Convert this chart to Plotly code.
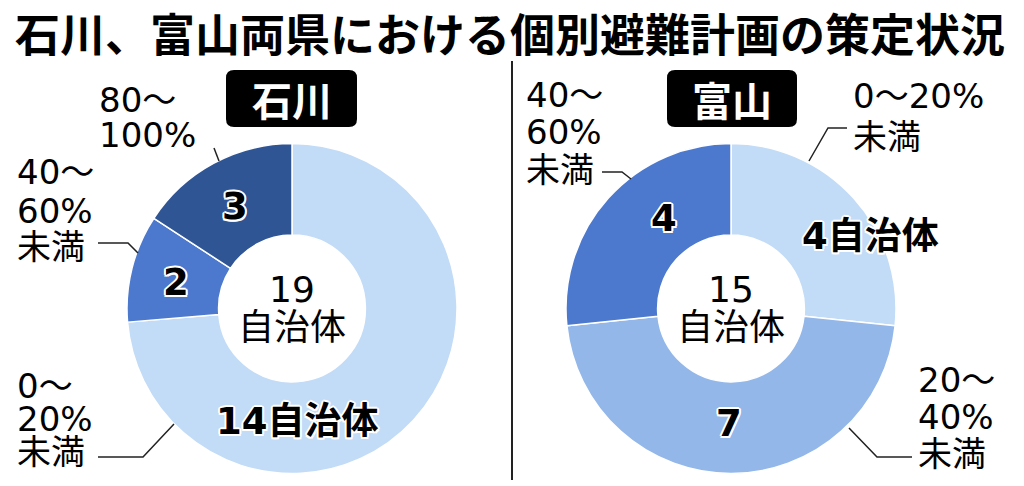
import plotly.graph_objects as go

# browser puts an 8px body margin around the plot, so the figure is that much smaller
OFF = 8
W, H = 1024 - OFF, 486 - OFF

title = "石川、富山両県における個別避難計画の策定状況"

ishikawa_labels = ["0～20%未満", "40～60%未満", "80～100%"]
ishikawa_values = [14, 2, 3]
toyama_labels = ["0～20%未満", "20～40%未満", "40～60%未満"]
toyama_values = [4, 7, 4]

color_map = {
    "0～20%未満": "#c2dbf6",
    "20～40%未満": "#93b7e9",
    "40～60%未満": "#4c79cd",
    "80～100%": "#2f5595",
}

CJK = "Noto Sans CJK JP"
FONT = "DejaVu Sans, Noto Sans CJK JP"
HALO = ("2px 0 0 #fff, -2px 0 0 #fff, 0 2px 0 #fff, 0 -2px 0 #fff, "
        "1.5px 1.5px 0 #fff, -1.5px -1.5px 0 #fff, 1.5px -1.5px 0 #fff, -1.5px 1.5px 0 #fff")


def px(x):
    return (x - OFF) / W


def py(y):
    return 1 - (y - OFF) / H


def pie(labels, values, x0, x1):
    return go.Pie(
        labels=labels,
        values=values,
        hole=0.445,
        sort=False,
        direction="clockwise",
        rotation=0,
        textinfo="none",
        marker=dict(colors=[color_map[l] for l in labels],
                    line=dict(color="white", width=1.5)),
        domain=dict(x=[px(x0), px(x1)], y=[py(474), py(143)]),
        showlegend=False,
        hoverinfo="label+value",
    )


fig = go.Figure([
    pie(ishikawa_labels, ishikawa_values, 127, 457),
    pie(toyama_labels, toyama_values, 566, 896),
])


def text(x, y, s, size=34, bold=False, color="black", xanchor="center", halo=False,
         family=FONT, height=None):
    f = dict(family=family, size=size, color=color, weight=700 if bold else 400)
    if halo:
        f["shadow"] = HALO
    fig.add_annotation(x=px(x), y=py(y), xref="paper", yref="paper", text=s,
                       showarrow=False, font=f, xanchor=xanchor, yanchor="middle",
                       height=height)


def lines(x, ys, parts, size=34, xanchor="left"):
    for y, s in zip(ys, parts):
        text(x, y, s, size=size, xanchor=xanchor, height=36)


def leader(points):
    path = "M " + " L ".join(f"{px(x)},{py(y)}" for x, y in points)
    fig.add_shape(type="path", path=path, xref="paper", yref="paper",
                  line=dict(color="#222", width=1.5))


def badge(x0, y0, x1, y1, s, r=8):
    a0, b0, a1, b1 = px(x0), py(y0), px(x1), py(y1)
    rx, ry = r / W, r / H
    path = (f"M {a0 + rx},{b0} L {a1 - rx},{b0} Q {a1},{b0} {a1},{b0 - ry} "
            f"L {a1},{b1 + ry} Q {a1},{b1} {a1 - rx},{b1} L {a0 + rx},{b1} "
            f"Q {a0},{b1} {a0},{b1 + ry} L {a0},{b0 - ry} Q {a0},{b0} {a0 + rx},{b0} Z")
    fig.add_shape(type="path", path=path, xref="paper", yref="paper",
                  fillcolor="black", line=dict(width=0))
    text((x0 + x1) / 2, (y0 + y1) / 2 + 1, s, size=40, bold=True, color="white", family=CJK)


# title
text(510, 32, title, size=45, bold=True, family=CJK, height=48)

# divider
fig.add_shape(type="line", xref="paper", yref="paper", x0=px(512), x1=px(512),
              y0=py(61), y1=py(480), line=dict(color="#222", width=2))

# badges
badge(226, 70, 357, 127, "石川")
badge(667, 70, 797, 127, "富山")

# Ishikawa
text(292, 289, f"{sum(ishikawa_values)}", size=36, height=38)
text(292, 327, "自治体", size=36, height=38)
text(297, 421, f"{ishikawa_values[0]}自治体", size=37, bold=True, halo=True)
text(176, 282, f"{ishikawa_values[1]}", size=37, bold=True, halo=True)
text(235, 206, f"{ishikawa_values[2]}", size=37, bold=True, halo=True)

lines(97, [100, 135], ["80～", "100%"])
lines(15, [172, 211, 247], ["40～", "60%", "未満"])
lines(15, [386, 419, 452], ["0～", "20%", "未満"])
leader([(214, 148), (219, 161)])
leader([(98, 243), (128, 243), (138, 253)])
leader([(98, 457), (143, 457), (174, 424)])

# Toyama
text(731, 289, f"{sum(toyama_values)}", size=36, height=38)
text(731, 327, "自治体", size=36, height=38)
text(870, 236, f"{toyama_values[0]}自治体", size=37, bold=True, halo=True)
text(729, 423, f"{toyama_values[1]}", size=37, bold=True, halo=True)
text(664, 218, f"{toyama_values[2]}", size=37, bold=True, halo=True)

lines(851, [96, 137], ["0～20%", "未満"])
lines(524, [95, 132, 170], ["40～", "60%", "未満"])
lines(916, [380, 417, 454], ["20～", "40%", "未満"])
leader([(847, 128), (828, 128), (809, 161)])
leader([(602, 172), (622, 172), (631, 179)])
leader([(912, 457), (877, 457), (849, 428)])

fig.update_layout(
    width=W, height=H,
    margin=dict(l=0, r=0, t=0, b=0),
    paper_bgcolor="white",
    plot_bgcolor="white",
)

fig.write_html("out.html")
